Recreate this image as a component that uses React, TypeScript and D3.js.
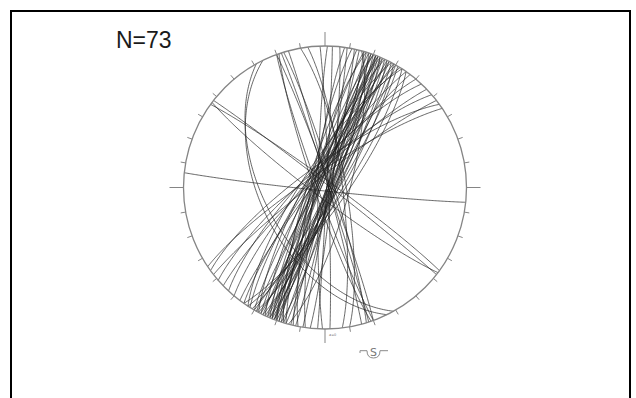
import React from 'react';
import * as d3 from 'd3';

// plane orientations: [strike (right-hand rule), dip] in degrees
const mainSet = [
  [6, 86], [188, 84], [9, 88], [191, 82], [12, 87], [193, 85], [14, 89], [196, 83],
  [16, 86], [197, 80], [17, 88], [198, 86], [18, 84], [199, 87], [19, 89], [200, 85],
  [20, 87], [200, 82], [21, 85], [201, 88], [21, 89], [202, 84], [22, 86], [202, 87],
  [23, 88], [203, 83], [23, 84], [204, 86], [24, 87], [205, 81], [25, 85], [206, 88],
  [26, 83], [207, 85], [27, 88], [208, 79], [28, 84], [209, 86], [29, 81], [210, 83],
  [30, 86], [212, 80], [31, 83], [213, 77], [33, 80], [215, 82], [35, 78], [217, 84],
  [15, 76],
];
const nnwSet = [[340, 87], [160, 86], [342, 88], [161, 84], [343, 85], [345, 88]];
const nsSet = [[358, 88], [181, 86], [3, 89], [350, 78], [353, 80]];
const nwSet = [[306, 86], [127, 84], [308, 88]];
const ewSet = [[96, 88]];
const shallowSet = [[154, 52], [151, 55]];
const neSet = [[220, 80], [223, 78], [226, 82], [229, 79], [232, 84], [234, 77], [236, 81]];

const planes = [...mainSet, ...nnwSet, ...nsSet, ...nwSet, ...ewSet, ...shallowSet, ...neSet];
const tickAngles = d3.range(0, 360, 10);
const countLabel = `N=${planes.length}`;

const cx = 325, cy = 187.5, R = 141.5;
const rad = Math.PI / 180;

// lower hemisphere, equal-area projection of a plane's great circle
function greatCircle(strike: number, dip: number): [number, number][] {
  const s = strike * rad, d = dip * rad;
  const sn = Math.cos(s), se = Math.sin(s);
  const dd = s + Math.PI / 2;
  const dn = Math.cos(dd) * Math.cos(d), de = Math.sin(dd) * Math.cos(d), dz = Math.sin(d);
  return d3.range(0, 181, 1).map((i) => {
    const t = i * rad;
    const n = Math.cos(t) * sn + Math.sin(t) * dn;
    const e = Math.cos(t) * se + Math.sin(t) * de;
    const z = Math.sin(t) * dz;
    const plunge = Math.asin(Math.max(-1, Math.min(1, z)));
    const trend = Math.atan2(e, n);
    const r = Math.SQRT2 * Math.sin((Math.PI / 2 - plunge) / 2);
    return [r * Math.sin(trend), -r * Math.cos(trend)];
  });
}

export default function App() {
  document.body.style.margin = '0';
  const x = d3.scaleLinear().domain([-1, 1]).range([cx - R, cx + R]);
  const y = d3.scaleLinear().domain([-1, 1]).range([cy - R, cy + R]);
  const line = d3.line<[number, number]>().x((p) => x(p[0])).y((p) => y(p[1]));

  return (
    <svg width={636} height={398} style={{ display: 'block', background: '#fff' }}>
      <rect x={11} y={11} width={619} height={400} fill="#fff" stroke="#000" strokeWidth={2} />
      <text x={116} y={48} fontFamily="Liberation Sans, Arial, sans-serif" fontSize={23} fill="#1a1a1a">
        {countLabel}
      </text>

      {/* great circles */}
      <g fill="none" stroke="#1e1e1e" strokeWidth={0.8} strokeOpacity={0.85}>
        {planes.map((p, i) => (
          <path key={i} d={line(greatCircle(p[0], p[1])) || ''} />
        ))}
      </g>

      {/* primitive circle */}
      <circle cx={cx} cy={cy} r={R} fill="none" stroke="#858585" strokeWidth={1.3} />

      {/* ticks */}
      <g stroke="#858585" strokeWidth={1}>
        {tickAngles.map((a) => {
          const len = a % 90 === 0 ? 14 : 5;
          const sa = Math.sin(a * rad), ca = Math.cos(a * rad);
          return (
            <line
              key={a}
              x1={cx + R * sa}
              y1={cy - R * ca}
              x2={cx + (R + len) * sa}
              y2={cy - (R + len) * ca}
            />
          );
        })}
      </g>
      <text x={329} y={336} fontSize={3.5} fill="#777" fontFamily="DejaVu Sans, sans-serif">a=0</text>

      {/* south symbol */}
      <g stroke="#8a8a8a" strokeWidth={1} fill="none">
        <path d="M360,353 L360,350.7 L367,350.7" />
        <path d="M367,350.7 Q367,358 373.5,358 Q380,358 380,350.7" />
        <path d="M380,350.7 L388,350.7" />
      </g>
      <text x={373.5} y={356} textAnchor="middle" fontSize={11} fill="#777" fontFamily="DejaVu Sans, sans-serif">S</text>
    </svg>
  );
}
